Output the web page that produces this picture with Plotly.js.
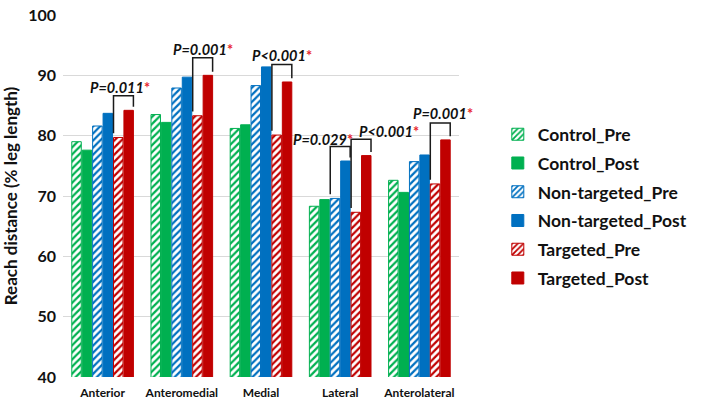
<!DOCTYPE html>
<html>
<head>
<meta charset="utf-8">
<script src="https://cdn.plot.ly/plotly-3.0.1.min.js"></script>
<style>html,body{margin:0;padding:0;background:#fff;}#chart{width:704px;height:403px;}</style>
</head>
<body>
<div id="chart"></div>
<script>
// ---- data ----
const categories = ["Anterior", "Anteromedial", "Medial", "Lateral", "Anterolateral"];
const seriesNames = ["Control_Pre", "Control_Post", "Non-targeted_Pre", "Non-targeted_Post", "Targeted_Pre", "Targeted_Post"];
const controlPre      = [79.0, 83.5, 81.2, 68.3, 72.6];
const controlPost     = [77.6, 82.2, 81.8, 69.4, 70.6];
const nonTargetedPre  = [81.6, 87.9, 88.3, 69.6, 75.7];
const nonTargetedPost = [83.7, 89.7, 91.4, 75.8, 76.8];
const targetedPre     = [79.7, 83.3, 80.1, 67.3, 72.0];
const targetedPost    = [84.2, 90.0, 88.9, 76.7, 79.3];
const seriesValues = [controlPre, controlPost, nonTargetedPre, nonTargetedPost, targetedPre, targetedPost];

// significance brackets: category index, pre-series index, label, bracket top value
const bracketCategory = [0, 1, 2, 3, 3, 4];
const bracketPreSeries = [4, 4, 4, 2, 4, 4];
const bracketLabels = ["P=0.011", "P=0.001", "P<0.001", "P=0.029", "P<0.001", "P=0.001"];
const bracketTop = [86.6, 92.9, 91.8, 78.2, 79.4, 82.1];

// ---- styling ----
const colors = ["#00B050", "#00B050", "#0070C0", "#0070C0", "#C00000", "#C00000"];
const hatched = [true, false, true, false, true, false];
const FONT = "Lato, 'Open Sans', sans-serif";
const bargap = 0.21, bargroupgap = 0.09;
const labelShift = [-3, 0, 0, -17, 28, 3];
const labelYShift = [-1, -1, -1, -2, -2, 0];

const traces = seriesNames.map((name, i) => {
  const marker = {color: colors[i], line: {color: colors[i], width: 1}};
  if (hatched[i]) {
    marker.pattern = {shape: "/", fillmode: "replace", fgcolor: colors[i], bgcolor: "#ffffff", size: 5, solidity: 0.45};
  }
  return {
    type: "bar", name: name, x: categories.map((c, k) => k), y: seriesValues[i],
    marker: marker, legendgroup: name, hoverinfo: "y+name"
  };
});

const n = seriesNames.length;
const slot = (1 - bargap) / n;
function barLeft(c, k) { return c - (1 - bargap) / 2 + slot * k + slot * bargroupgap / 2; }
function barRight(c, k) { return barLeft(c, k) + slot * (1 - bargroupgap); }

const shapes = [];
const annotations = [];
bracketCategory.forEach((c, b) => {
  const kPre = bracketPreSeries[b], kPost = kPre + 1;
  const x0 = barLeft(c, kPre), x1 = barRight(c, kPost);
  const yTop = bracketTop[b];
  const y0 = seriesValues[kPre][c] + 0.7, y1 = seriesValues[kPost][c] + 0.6;
  shapes.push({type: "path", xref: "x", yref: "y",
    path: `M ${x0},${y0} L ${x0},${yTop} L ${x1},${yTop} L ${x1},${y1}`,
    line: {color: "#1a1a1a", width: 1.5}});
  annotations.push({xref: "x", yref: "y", x: (x0 + x1) / 2, y: yTop, yanchor: "bottom", xanchor: "center",
    xshift: labelShift[b], yshift: labelYShift[b], showarrow: false, borderpad: 0,
    text: `<b><i>${bracketLabels[b]}</i></b><b><span style="color:#E8262B">*</span></b>`,
    font: {family: FONT, size: 14.5, color: "#111"}});
});

const layout = {
  width: 704, height: 403,
  margin: {l: 63, r: 224, t: 15, b: 26},
  paper_bgcolor: "#fff", plot_bgcolor: "#fff",
  barmode: "group", bargap: bargap, bargroupgap: bargroupgap,
  font: {family: FONT, color: "#000"},
  xaxis: {
    tickmode: "array", tickvals: categories.map((c, k) => k), ticktext: categories.map(c => "<b>" + c + "</b>"),
    range: [-0.5, 4.5], showgrid: false, zeroline: false, showline: false, ticks: "", ticklabelstandoff: 7,
    tickfont: {family: FONT, size: 12, color: "#111"}
  },
  yaxis: {
    range: [40, 100], dtick: 10, showgrid: true, gridcolor: "#d9d9d9", gridwidth: 1,
    zeroline: false, showline: false, ticks: "", ticklabelstandoff: 6,
    tickfont: {family: FONT, size: 16, color: "#111", weight: "bold"},
    title: {text: "<b>Reach distance (% leg length)</b>", font: {family: FONT, size: 17, color: "#111"}, standoff: 9}
  },
  legend: {
    x: 1.098, y: 0.72, xanchor: "left", yanchor: "top", xref: "paper", yref: "paper",
    traceorder: "grouped", tracegroupgap: 3,
    font: {family: FONT, size: 17.5, color: "#111", weight: "bold"},
    itemwidth: 30, bgcolor: "rgba(0,0,0,0)"
  },
  shapes: shapes, annotations: annotations
};

Plotly.newPlot("chart", traces, layout, {displayModeBar: false, staticPlot: true});
</script>
</body>
</html>
